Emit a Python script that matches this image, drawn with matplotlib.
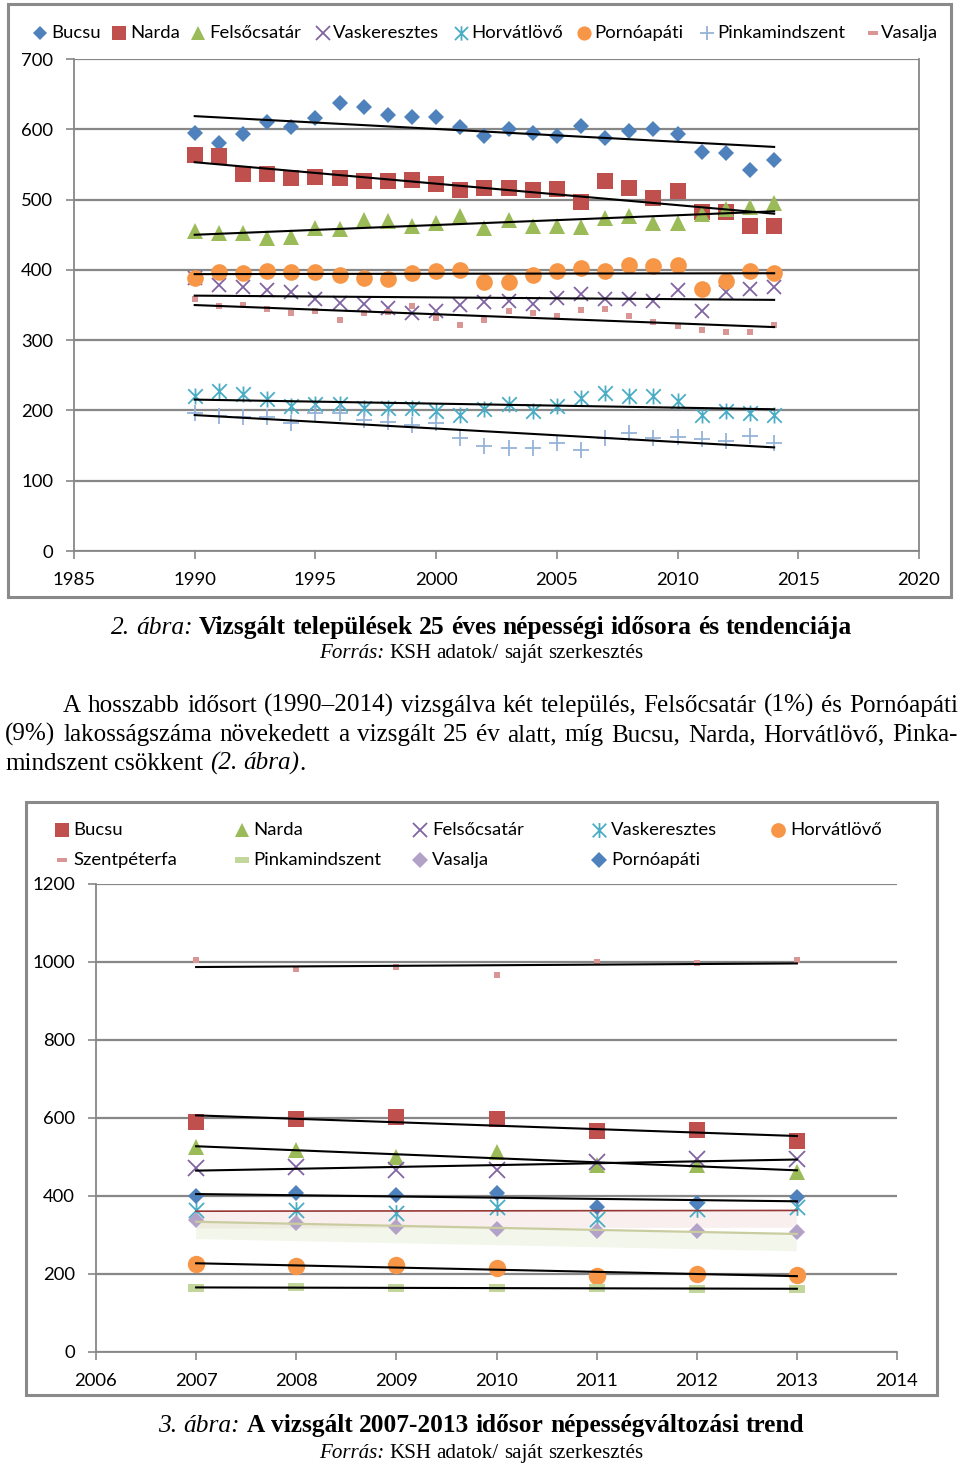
import numpy as np
import matplotlib
matplotlib.use('Agg')
import matplotlib.pyplot as plt
from matplotlib.path import Path
from matplotlib.lines import Line2D
from matplotlib.patches import Rectangle
import matplotlib.transforms as mtransforms

# ---------------- DATA : chart 1 (1990-2014) ----------------
years1 = list(range(1990, 2015))
bucsu1 = [595, 580, 593, 610, 603, 616, 638, 632, 621, 618, 618, 603, 591, 600, 595,
          591, 604, 588, 597, 601, 594, 567, 566, 542, 557]
narda1 = [564, 562, 537, 537, 531, 532, 531, 526, 526, 528, 522, 514, 516, 516, 513,
          515, 496, 526, 517, 502, 512, 482, 483, 462, 463]
felsocsatar1 = [455, 452, 453, 445, 447, 460, 458, 471, 469, 462, 467, 476, 460, 471, 463,
                463, 461, 474, 476, 466, 466, 480, 486, 489, 495]
vaskeresztes1 = [388, 378, 376, 371, 369, 358, 353, 352, 346, 339, 341, 350, 354, 356, 351,
                 360, 365, 358, 358, 356, 372, 341, 368, 373, 375]
horvatlovo1 = [221, 228, 224, 216, 206, 209, 209, 204, 204, 204, 199, 194, 202, 209, 199,
               206, 218, 225, 220, 220, 213, 194, 199, 197, 193]
pornoapati1 = [389, 397, 395, 399, 397, 397, 392, 389, 387, 395, 399, 400, 383, 383, 392,
               399, 402, 399, 407, 405, 407, 373, 384, 399, 395]
pinkamindszent1 = [196, 192, 191, 190, 182, 197, 197, 187, 183, 179, 182, 161, 149, 146, 147,
                   153, 144, 161, 168, 161, 162, 160, 156, 163, 153]
vasalja1 = [358, 348, 350, 345, 338, 341, 328, 339, 340, 348, 332, 322, 328, 341, 338,
            335, 343, 344, 335, 326, 320, 314, 311, 311, 321]
names1 = ["Bucsu", "Narda", "Felsőcsatár", "Vaskeresztes", "Horvátlövő",
          "Pornóapáti", "Pinkamindszent", "Vasalja"]
xticks1 = [1985, 1990, 1995, 2000, 2005, 2010, 2015, 2020]
yticks1 = [0, 100, 200, 300, 400, 500, 600, 700]

# ---------------- DATA : chart 2 (2007-2013) ----------------
years2 = [2007, 2008, 2009, 2010, 2011, 2012, 2013]
bucsu2 = [590, 598, 603, 597, 566, 568, 540]
narda2 = [526, 517, 500, 513, 480, 479, 462]
felsocsatar2 = [472, 474, 466, 466, 487, 494, 496]
vaskeresztes2 = [364, 364, 356, 373, 340, 366, 371]
horvatlovo2 = [226, 221, 222, 215, 195, 201, 197]
szentpeterfa2 = [1004, 983, 987, 966, 1000, 998, 1004]
pinkamindszent2 = [164, 167, 164, 164, 164, 162, 162]
vasalja2 = [338, 330, 320, 315, 309, 309, 307]
pornoapati2 = [400, 407, 403, 407, 373, 383, 397]
names2 = ["Bucsu", "Narda", "Felsőcsatár", "Vaskeresztes", "Horvátlövő",
          "Szentpéterfa", "Pinkamindszent", "Vasalja", "Pornóapáti"]
xticks2 = [2006, 2007, 2008, 2009, 2010, 2011, 2012, 2013, 2014]
yticks2 = [0, 200, 400, 600, 800, 1000, 1200]

# ---------------- TEXT ----------------
cap1 = [("2. ábra:", "i"), (" Vizsgált települések 25 éves népességi idősora és tendenciája", "b")]
src = [("Forrás:", "i"), (" KSH adatok/ saját szerkesztés", "n")]
para1 = [("A hosszabb idősort (1990–2014) vizsgálva két település, Felsőcsatár (1%) és Pornóapáti", "n")]
para2 = [("(9%) lakosságszáma növekedett a vizsgált 25 év alatt, míg Bucsu, Narda, Horvátlövő, Pinka-", "n")]
para3 = [("mindszent csökkent ", "n"), ("(2. ábra)", "i"), (".", "n")]
cap3 = [("3. ábra:", "i"), (" A vizsgált 2007-2013 idősor népességváltozási trend", "b")]

# ---------------- STYLE ----------------
W, H = 960, 1466
plt.rcParams['font.family'] = ['Lato', 'DejaVu Sans']
GRAY = '#878787'
SERIF = 'Liberation Serif'

fig = plt.figure(figsize=(W / 100, H / 100), dpi=100)
fig.patch.set_facecolor('white')


def fx(x):
    return x / W


def fy(y):
    return 1 - y / H


star = Path([(-1, -1), (1, 1), (-1, 1), (1, -1), (0, -1.1), (0, 1.1)],
            [Path.MOVETO, Path.LINETO] * 3)
dash = Path([(-1, -0.45), (1, -0.45), (1, 0.45), (-1, 0.45), (-1, -0.45)],
            [Path.MOVETO, Path.LINETO, Path.LINETO, Path.LINETO, Path.CLOSEPOLY])


def mk(marker, color, ms, filled=True, mew=1.3):
    if filled:
        return dict(marker=marker, markersize=ms, markerfacecolor=color,
                    markeredgecolor=color, markeredgewidth=0.0)
    return dict(marker=marker, markersize=ms, markerfacecolor='none',
                markeredgecolor=color, markeredgewidth=mew)


styles1 = [mk('D', '#4F81BD', 8.3), mk('s', '#C0504D', 11.5), mk('^', '#9BBB59', 12),
           mk('x', '#8064A2', 10.5, False), mk(star, '#4BACC6', 11.5, False),
           mk('o', '#F79646', 12), mk('+', '#95B3D7', 11.5, False), mk('s', '#D99694', 5)]
styles2 = [mk('s', '#C0504D', 12), mk('^', '#9BBB59', 12), mk('x', '#8064A2', 11, False),
           mk(star, '#4BACC6', 12, False), mk('o', '#F79646', 12.5), mk('s', '#D99694', 5),
           mk(dash, '#C3D69B', 12), mk('D', '#B3A2C7', 8.5), mk('D', '#4F81BD', 8.5)]


def style_axes(ax, right):
    for s in ['top', 'right']:
        ax.spines[s].set_visible(False)
    for s in ['left', 'bottom']:
        ax.spines[s].set_color(GRAY)
        ax.spines[s].set_linewidth(1.3)
    if right:
        ax.spines['right'].set_visible(True)
        ax.spines['right'].set_color(GRAY)
        ax.spines['right'].set_linewidth(1.3)
    ax.yaxis.grid(True, color=GRAY, lw=1.6)
    ax.set_axisbelow(True)
    ax.tick_params(axis='both', length=6, width=1.2, color=GRAY, labelsize=13.3,
                   pad=9, labelcolor='black')


def trend(ax, x, y, **kw):
    p = np.polyfit(x, y, 1)
    xs = np.array([x[0], x[-1]], dtype=float)
    ax.plot(xs, np.polyval(p, xs), zorder=5, **kw)
    return xs, np.polyval(p, xs)


# ---------------- CHART 1 ----------------
fig.patches.append(Rectangle((fx(8), fy(597)), fx(951) - fx(8), fy(4) - fy(597),
                             transform=fig.transFigure, fill=False, ec='#8a8a8a', lw=2.2))
ax1 = fig.add_axes([fx(74), fy(551), fx(919) - fx(74), fy(59) - fy(551)])
style_axes(ax1, True)
series1 = [bucsu1, narda1, felsocsatar1, vaskeresztes1, horvatlovo1, pornoapati1,
           pinkamindszent1, vasalja1]
for name, vals, st in zip(names1, series1, styles1):
    ax1.plot(years1, vals, linestyle='none', zorder=3, clip_on=False, **st)
for vals in series1:
    trend(ax1, years1, vals, color='black', lw=1.5)
ax1.set_xlim(xticks1[0], xticks1[-1])
ax1.set_ylim(yticks1[0], yticks1[-1])
ax1.set_xticks(xticks1)
ax1.set_yticks(yticks1)

# legend 1 (manual placement)
leg1_marker_x = [40, 119, 198, 323, 461, 584, 707, 873]
leg1_text_x = [51, 130, 209, 333, 471, 594, 717, 881]
leg_scale1 = [0.9, 0.85, 0.8, 0.9, 0.9, 0.85, 0.9, 1.0]
for name, st, xm, xt, sc in zip(names1, styles1, leg1_marker_x, leg1_text_x, leg_scale1):
    s = dict(st)
    s['markersize'] = st['markersize'] * sc
    if name == 'Vasalja':
        s['marker'] = dash
        s['markersize'] = 7
    fig.add_artist(Line2D([fx(xm)], [fy(33)], transform=fig.transFigure, linestyle='none', **s))
    fig.text(fx(xt), fy(33), name, ha='left', va='center', fontsize=13.3)

# ---------------- CHART 2 ----------------
fig.patches.append(Rectangle((fx(26), fy(1395)), fx(937) - fx(26), fy(802) - fy(1395),
                             transform=fig.transFigure, fill=False, ec='#8a8a8a', lw=2.2))
ax2 = fig.add_axes([fx(96), fy(1352), fx(897) - fx(96), fy(884) - fy(1352)])
style_axes(ax2, False)
series2 = [bucsu2, narda2, felsocsatar2, vaskeresztes2, horvatlovo2, szentpeterfa2,
           pinkamindszent2, vasalja2, pornoapati2]
for name, vals, st in zip(names2, series2, styles2):
    ax2.plot(years2, vals, linestyle='none', zorder=3, **st)

glow = mtransforms.offset_copy(ax2.transData, fig=fig, x=0, y=-9, units='dots')
for name, vals in zip(names2, series2):
    if name == 'Vaskeresztes':
        p = np.polyfit(years2, vals, 1)
        xs = np.array([years2[0], years2[-1]], dtype=float)
        ax2.plot(xs, np.polyval(p, xs), color='#E6B9B8', lw=12, alpha=0.22,
                 transform=glow, zorder=2, solid_capstyle='butt')
        trend(ax2, years2, vals, color='#953735', lw=1.2)
    elif name == 'Vasalja':
        p = np.polyfit(years2, vals, 1)
        xs = np.array([years2[0], years2[-1]], dtype=float)
        ax2.plot(xs, np.polyval(p, xs), color='#D7E4BD', lw=12, alpha=0.3,
                 transform=glow, zorder=2, solid_capstyle='butt')
        trend(ax2, years2, vals, color='#C9CC9F', lw=1.6)
    else:
        trend(ax2, years2, vals, color='black', lw=1.5)
ax2.set_xlim(xticks2[0], xticks2[-1])
ax2.set_ylim(yticks2[0], yticks2[-1])
ax2.set_xticks(xticks2)
ax2.set_yticks(yticks2)

# legend 2 (manual placement, 2 rows x 5 cols)
leg2_marker_x = [62, 242, 420, 599, 778, 62, 242, 420, 599]
leg2_text_x = [73, 253, 432, 611, 790, 73, 253, 432, 611]
leg2_y = [830, 830, 830, 830, 830, 860, 860, 860, 860]
leg_scale2 = [0.85, 0.8, 0.9, 0.9, 0.85, 1.0, 1.0, 0.9, 0.9]
for name, st, xm, xt, yy, sc in zip(names2, styles2, leg2_marker_x, leg2_text_x, leg2_y, leg_scale2):
    s = dict(st)
    s['markersize'] = st['markersize'] * sc
    if name == 'Szentpéterfa':
        s['marker'] = dash
        s['markersize'] = 7
    if name == 'Pinkamindszent':
        s['markersize'] = 10
    fig.add_artist(Line2D([fx(xm)], [fy(yy)], transform=fig.transFigure, linestyle='none', **s))
    fig.text(fx(xt), fy(yy), name, ha='left', va='center', fontsize=13.3)

# ---------------- SERIF TEXT ----------------
renderer = fig.canvas.get_renderer()


def props(st, size):
    return dict(family=SERIF, size=size,
                style='italic' if st == 'i' else 'normal',
                weight='bold' if st == 'b' else 'normal')


def tw(s, st, size):
    t = fig.text(0, 0, s, **props(st, size))
    w = t.get_window_extent(renderer=renderer).width
    t.remove()
    return w


def tokenize(runs):
    tokens = []
    new = True
    for text, st in runs:
        pieces = text.split(' ')
        for i, p in enumerate(pieces):
            if i > 0:
                new = True
            if p == '':
                continue
            if new:
                tokens.append([])
                new = False
            tokens[-1].append((p, st))
    return tokens


def measure(runs, size):
    toks = tokenize(runs)
    tws = [sum(tw(p, st, size) for p, st in tok) for tok in toks]
    sp = tw('a a', 'n', size) - tw('aa', 'n', size)
    return toks, tws, sp


def natural_width(runs, size):
    toks, tws, sp = measure(runs, size)
    return sum(tws) + sp * (len(toks) - 1)


def fit(runs, target, base=12.0):
    return base * target / natural_width(runs, base)


def draw_line(runs, y, size, x_left=None, x_right=None, center=None):
    toks, tws, sp = measure(runs, size)
    total = sum(tws) + sp * (len(toks) - 1)
    if x_left is not None and x_right is not None:
        gap = (x_right - x_left - sum(tws)) / (len(toks) - 1)
        x = x_left
    elif center is not None:
        gap = sp
        x = center - total / 2
    else:
        gap = sp
        x = x_left
    for tok, w in zip(toks, tws):
        xx = x
        for p, st in tok:
            fig.text(fx(xx), fy(y), p, ha='left', va='baseline', **props(st, size))
            xx += tw(p, st, size)
        x += w + gap


s_cap1 = fit(cap1, 737)
draw_line(cap1, 634, s_cap1, center=481)
s_src = fit(src, 323)
draw_line(src, 658, s_src, center=481)

s_par = fit(para3, 300)
draw_line(para1, 712, s_par, x_left=63, x_right=958)
draw_line(para2, 741, s_par, x_left=5, x_right=958)
draw_line(para3, 770, s_par, x_left=5)

s_cap3 = fit(cap3, 643)
draw_line(cap3, 1432, s_cap3, center=481)
draw_line(src, 1458, s_src, center=481)

fig.savefig('out.png', dpi=100)
